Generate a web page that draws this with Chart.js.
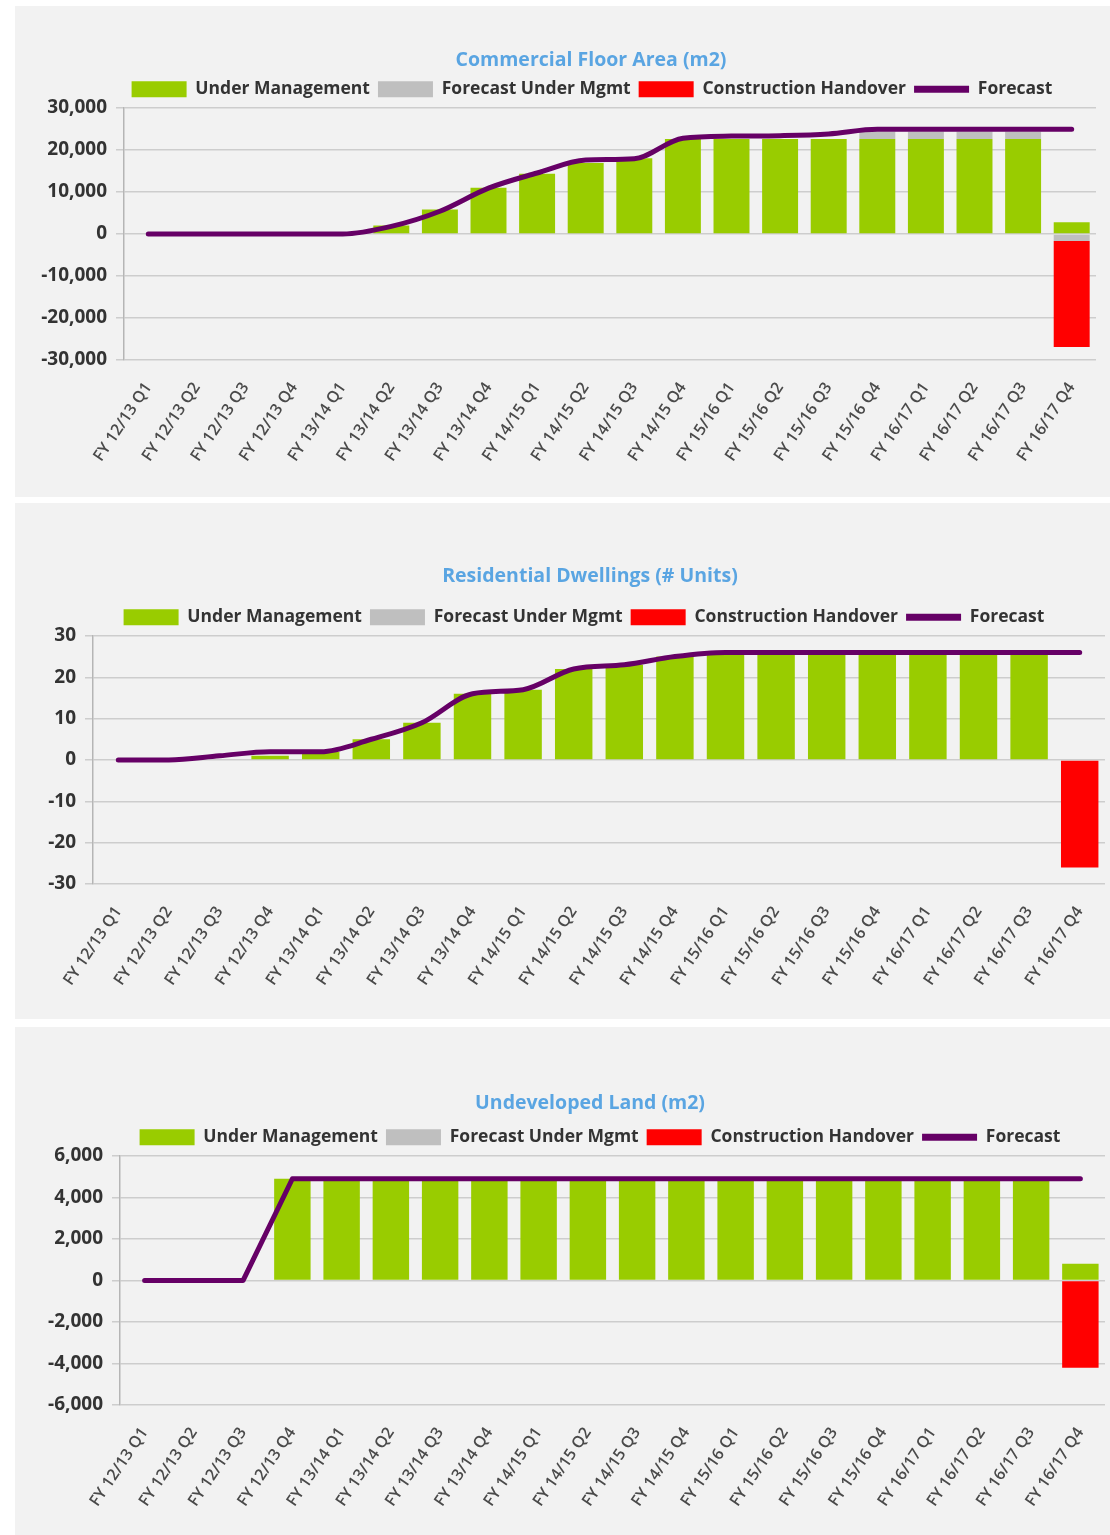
<!DOCTYPE html>
<html>
<head>
<meta charset="utf-8">
<title>Floor area, dwellings and land under management</title>
<script src="https://cdn.jsdelivr.net/npm/chart.js@4.4.1/dist/chart.umd.min.js"></script>
<style>
  html, body { margin: 0; padding: 0; background: #ffffff; }
  body { width: 1110px; height: 1535px; position: relative; overflow: hidden; }
  .panel { position: absolute; left: 15px; width: 1095px; background: #f2f2f2; }
  .panel canvas { display: block; }
</style>
</head>
<body>
<div class="panel" style="top:6px;height:491px"><canvas id="commercialChart" width="1095" height="491"></canvas></div>
<div class="panel" style="top:503px;height:516px"><canvas id="residentialChart" width="1095" height="516"></canvas></div>
<div class="panel" style="top:1027px;height:508px"><canvas id="landChart" width="1095" height="508"></canvas></div>
<script>
const quarters = [
    'FY 12/13 Q1', 'FY 12/13 Q2', 'FY 12/13 Q3', 'FY 12/13 Q4',
    'FY 13/14 Q1', 'FY 13/14 Q2', 'FY 13/14 Q3', 'FY 13/14 Q4',
    'FY 14/15 Q1', 'FY 14/15 Q2', 'FY 14/15 Q3', 'FY 14/15 Q4',
    'FY 15/16 Q1', 'FY 15/16 Q2', 'FY 15/16 Q3', 'FY 15/16 Q4',
    'FY 16/17 Q1', 'FY 16/17 Q2', 'FY 16/17 Q3', 'FY 16/17 Q4'
];

// Commercial floor area (m2)
const commercialUnderMgmt = [0, 0, 0, 0, 0, 2000, 5800, 11000, 14300, 16900, 18000, 22600, 22600, 22600, 22600, 22600, 22600, 22600, 22600, 2800];
const commercialForecastMgmt = [0, 0, 0, 0, 0, 0, 0, 0, 0, 0, 0, 0, 0, 0, 0, 1800, 1800, 1800, 1800, -1700];
const commercialHandover = [0, 0, 0, 0, 0, 0, 0, 0, 0, 0, 0, 0, 0, 0, 0, 0, 0, 0, 0, -25200];
const commercialForecast = [0, 0, 0, 0, 0, 1800, 5400, 10900, 14500, 17600, 17900, 22800, 23300, 23400, 23800, 24900, 24900, 24900, 24900, 24900];
const commercialTicks = [-30000, -20000, -10000, 0, 10000, 20000, 30000];

// Residential dwellings (# units)
const residentialUnderMgmt = [0, 0, 0, 1, 2, 5, 9, 16, 17, 22, 23, 25, 26, 26, 26, 26, 26, 26, 26, 0];
const residentialForecastMgmt = [0, 0, 0, 0, 0, 0, 0, 0, 0, 0, 0, 0, 0, 0, 0, 0, 0, 0, 0, 0];
const residentialHandover = [0, 0, 0, 0, 0, 0, 0, 0, 0, 0, 0, 0, 0, 0, 0, 0, 0, 0, 0, -26];
const residentialForecast = [0, 0, 1, 2, 2, 5, 9, 16, 17, 22, 23, 25, 26, 26, 26, 26, 26, 26, 26, 26];
const residentialTicks = [-30, -20, -10, 0, 10, 20, 30];

// Undeveloped land (m2)
const landUnderMgmt = [0, 0, 0, 4900, 4900, 4900, 4900, 4900, 4900, 4900, 4900, 4900, 4900, 4900, 4900, 4900, 4900, 4900, 4900, 800];
const landForecastMgmt = [0, 0, 0, 0, 0, 0, 0, 0, 0, 0, 0, 0, 0, 0, 0, 0, 0, 0, 0, 0];
const landHandover = [0, 0, 0, 0, 0, 0, 0, 0, 0, 0, 0, 0, 0, 0, 0, 0, 0, 0, 0, -4200];
const landForecast = [0, 0, 0, 4900, 4900, 4900, 4900, 4900, 4900, 4900, 4900, 4900, 4900, 4900, 4900, 4900, 4900, 4900, 4900, 4900];
const landTicks = [-6000, -4000, -2000, 0, 2000, 4000, 6000];

Chart.defaults.font.family = "'Open Sans', 'Liberation Sans', sans-serif";

// Title and legend are centred on a fixed x in the original, not on the canvas
const centerBlocks = {
    id: 'centerBlocks',
    afterLayout(chart, args, opts) {
        const shift = (box, cx) => {
            if (!box) return;
            const half = (box.right - box.left) / 2;
            box.left = cx - half;
            box.right = cx + half;
        };
        shift(chart.titleBlock, opts.title);
        shift(chart.legend, opts.legend);
    }
};

function buildChart(canvasId, title, under, forecastMgmt, handover, forecast, yTicks, look) {
    const yStep = yTicks[1] - yTicks[0];
    return new Chart(document.getElementById(canvasId), {
        type: 'bar',
        plugins: [centerBlocks],
        data: {
            labels: quarters,
            datasets: [{
                label: 'Under Management',
                data: under,
                backgroundColor: '#99cc00',
                stack: 'bars',
                order: 1
            }, {
                label: 'Forecast Under Mgmt',
                data: forecastMgmt,
                backgroundColor: '#bfbfbf',
                stack: 'bars',
                order: 1
            }, {
                label: 'Construction Handover',
                data: handover,
                backgroundColor: '#ff0000',
                stack: 'bars',
                order: 1
            }, {
                type: 'line',
                label: 'Forecast',
                data: forecast,
                borderColor: '#660066',
                backgroundColor: '#660066',
                borderWidth: 5,
                borderCapStyle: 'round',
                borderJoinStyle: 'round',
                pointRadius: 0,
                tension: look.tension,
                cubicInterpolationMode: look.smooth ? 'monotone' : 'default',
                stack: 'line',
                order: 0
            }]
        },
        options: {
            responsive: false,
            animation: false,
            datasets: { bar: { barPercentage: 0.74, categoryPercentage: 1, borderWidth: 0 } },
            layout: { padding: { left: 0, right: look.padRight, top: 0, bottom: 0 } },
            plugins: {
                centerBlocks: { title: look.titleX, legend: look.legendX },
                title: {
                    display: true,
                    text: title,
                    color: '#5aa5e2',
                    font: { size: 19.5, weight: 'bold' },
                    padding: { top: look.titleTop, bottom: look.titleBottom }
                },
                legend: {
                    position: 'top',
                    labels: {
                        usePointStyle: true,
                        pointStyleWidth: 55,
                        boxHeight: 16,
                        padding: 8,
                        color: '#333333',
                        font: { size: 17.5, weight: 'bold' },
                        sort: (a, b) => a.datasetIndex - b.datasetIndex,
                        generateLabels(chart) {
                            const items = Chart.defaults.plugins.legend.labels.generateLabels(chart);
                            items.forEach(item => {
                                item.pointStyle = item.datasetIndex === 3 ? 'line' : 'rect';
                                if (item.datasetIndex === 3) item.lineWidth = 7;
                            });
                            return items;
                        }
                    }
                },
                tooltip: { enabled: false }
            },
            scales: {
                x: {
                    stacked: true,
                    grid: { display: false, drawTicks: false },
                    border: { display: false },
                    ticks: {
                        autoSkip: false,
                        minRotation: 56,
                        maxRotation: 56,
                        padding: 19,
                        color: '#4a4a4a',
                        font: { size: 16, weight: '600' }
                    },
                    afterFit(scale) {
                        scale.height = look.xHeight;
                        scale.paddingLeft = 0;
                        scale.paddingRight = 0;
                    }
                },
                y: {
                    stacked: true,
                    min: yTicks[0],
                    max: yTicks[yTicks.length - 1],
                    ticks: {
                        stepSize: yStep,
                        padding: 9,
                        color: '#333333',
                        font: { size: 19, weight: 'bold' },
                        callback: v => v.toLocaleString('en-US')
                    },
                    grid: { color: '#cdcdcd', lineWidth: 1.5, tickLength: 8 },
                    border: { color: '#b5b5b5', width: 1.5 },
                    afterFit(scale) {
                        scale.width = look.yWidth;
                    }
                }
            }
        }
    });
}

buildChart('commercialChart', 'Commercial Floor Area (m2)',
    commercialUnderMgmt, commercialForecastMgmt, commercialHandover, commercialForecast, commercialTicks,
    { padRight: 14, yWidth: 109, xHeight: 137, titleTop: 43, titleBottom: 0, titleX: 576, legendX: 577, tension: 0.3, smooth: true });

buildChart('residentialChart', 'Residential Dwellings (# Units)',
    residentialUnderMgmt, residentialForecastMgmt, residentialHandover, residentialForecast, residentialTicks,
    { padRight: 5, yWidth: 78, xHeight: 135, titleTop: 62, titleBottom: 12, titleX: 575, legendX: 569, tension: 0.3, smooth: true });

buildChart('landChart', 'Undeveloped Land (m2)',
    landUnderMgmt, landForecastMgmt, landHandover, landForecast, landTicks,
    { padRight: 5, yWidth: 105, xHeight: 130, titleTop: 65, titleBottom: 5, titleX: 575, legendX: 585, tension: 0, smooth: false });
</script>
</body>
</html>
